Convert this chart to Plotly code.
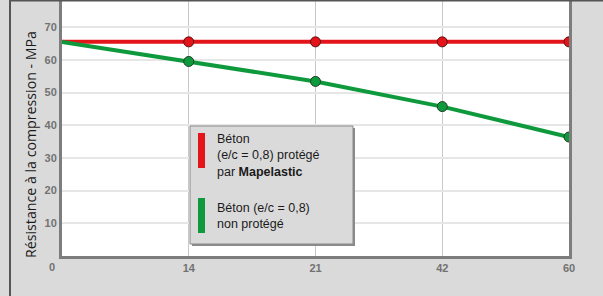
import plotly.graph_objects as go

# ---- data ----
days = ["0", "14", "21", "42", "60"]
protected = [65.5, 65.5, 65.5, 65.5, 65.5]
unprotected = [65.5, 59.5, 53.4, 45.7, 36.4]
y_ticks = [10, 20, 30, 40, 50, 60, 70]
x_ticks = ["14", "21", "42", "60"]
y_title = "Résistance à la compression - MPa"
legend_protected = "Béton<br>(e/c = 0,8) protégé<br>par <b>Mapelastic</b>"
legend_unprotected = "Béton (e/c = 0,8)<br>non protégé"

RED = "#e3151b"
GREEN = "#0e9a3c"

W, H = 603, 296
L, R, T, B = 62, 34, 1, 40
pw, ph = W - L - R, H - T - B


def px(x):
    return (x - L) / pw


def py(y):
    return 1 - (y - T) / ph


fig = go.Figure()

fig.add_trace(go.Scatter(
    x=days, y=protected, mode="lines", line=dict(color=RED, width=4),
    hoverinfo="skip", showlegend=False))
fig.add_trace(go.Scatter(
    x=days[1:], y=protected[1:], mode="markers",
    marker=dict(color=RED, size=10, line=dict(color="#5a1010", width=1)),
    showlegend=False))
fig.add_trace(go.Scatter(
    x=days, y=unprotected, mode="lines", line=dict(color=GREEN, width=4),
    hoverinfo="skip", showlegend=False))
fig.add_trace(go.Scatter(
    x=days[1:], y=unprotected[1:], mode="markers",
    marker=dict(color=GREEN, size=10, line=dict(color="#1f3d2a", width=1)),
    showlegend=False))

tick_font = dict(family="Liberation Sans, Arial", size=11, color="#727272", weight="bold")

fig.update_layout(
    width=W, height=H,
    margin=dict(l=L, r=R, t=T, b=B),
    paper_bgcolor="#dadada",
    plot_bgcolor="#ffffff",
    showlegend=False,
    xaxis=dict(
        type="category", range=[0, 4],
        tickmode="array", tickvals=x_ticks, ticktext=x_ticks,
        showgrid=True, gridcolor="#c8c8c8", gridwidth=1,
        showline=True, linecolor="#7d7d7d", linewidth=3,
        ticks="", tickfont=tick_font, zeroline=False,
    ),
    yaxis=dict(
        range=[0, 78], tickvals=y_ticks,
        showgrid=True, gridcolor="#e6e6e6", gridwidth=2,
        showline=True, linecolor="#7d7d7d", linewidth=3, mirror=True,
        ticks="", tickfont=tick_font, zeroline=False,
    ),
)

# origin label
fig.add_annotation(x=px(52), y=py(267), xref="paper", yref="paper",
                   xanchor="center", yanchor="middle",
                   text="0", showarrow=False, font=tick_font)

# y title
fig.add_annotation(x=px(30), y=py(145), xref="paper", yref="paper",
                   xanchor="center", yanchor="middle",
                   text=y_title, textangle=-90, showarrow=False,
                   font=dict(family="Open Sans", size=14.2, color="#1a1a1a"))

# outer frame (top and left)
fig.add_shape(type="line", xref="paper", yref="paper",
              x0=px(9), x1=px(W), y0=py(0.5), y1=py(0.5),
              line=dict(color="#555555", width=2))
fig.add_shape(type="line", xref="paper", yref="paper",
              x0=px(10), x1=px(10), y0=py(0), y1=py(H),
              line=dict(color="#555555", width=2))

# legend box
fig.add_shape(type="rect", xref="paper", yref="paper",
              x0=px(192), x1=px(355), y0=py(128), y1=py(246),
              line=dict(width=0), fillcolor="#8a8a8a")
fig.add_shape(type="rect", xref="paper", yref="paper",
              x0=px(190), x1=px(353), y0=py(126), y1=py(244),
              line=dict(color="#8a8a8a", width=1), fillcolor="#dadada")
fig.add_shape(type="rect", xref="paper", yref="paper",
              x0=px(198), x1=px(205), y0=py(133), y1=py(168),
              line=dict(width=0), fillcolor=RED)
fig.add_shape(type="rect", xref="paper", yref="paper",
              x0=px(198), x1=px(205), y0=py(198), y1=py(233),
              line=dict(width=0), fillcolor=GREEN)

leg_font = dict(family="Liberation Sans, Arial", size=12.5, color="#1a1a1a")
fig.add_annotation(x=px(215), y=py(130), xref="paper", yref="paper",
                   xanchor="left", yanchor="top", align="left",
                   text=legend_protected, showarrow=False, font=leg_font)
fig.add_annotation(x=px(215), y=py(199), xref="paper", yref="paper",
                   xanchor="left", yanchor="top", align="left",
                   text=legend_unprotected, showarrow=False, font=leg_font)

fig.write_html("out.html", config={"displayModeBar": False},
               post_script="document.body.style.margin='0';")
